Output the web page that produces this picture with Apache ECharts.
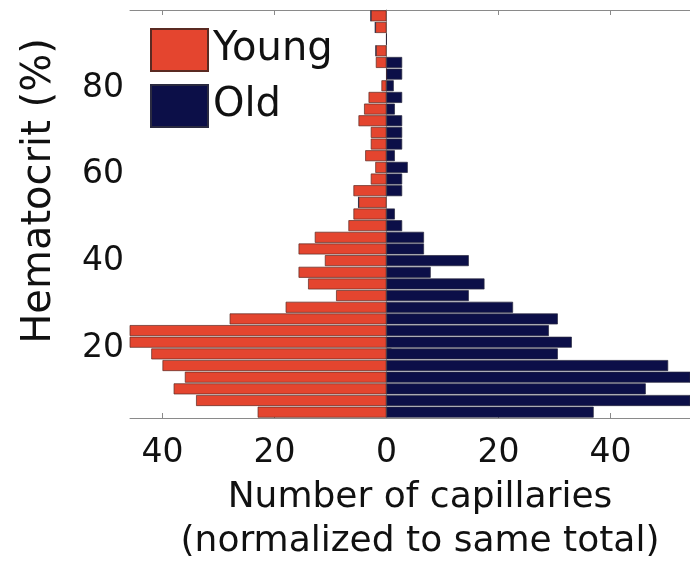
<!DOCTYPE html>
<html>
<head>
<meta charset="utf-8">
<script src="https://cdn.jsdelivr.net/npm/echarts@6/dist/echarts.min.js"></script>
<style>html,body{margin:0;padding:0;background:#fff;}#c{width:690px;height:561px;}</style>
</head>
<body>
<div id="c"></div>
<script>
// Hematocrit bin centers (%), bottom to top
const hematocritBins = [5.2, 7.9, 10.6, 13.2, 15.9, 18.6, 21.3, 24.0, 26.7, 29.4,
  32.1, 34.8, 37.5, 40.1, 42.8, 45.5, 48.2, 50.9, 53.6, 56.3,
  59.0, 61.7, 64.4, 67.0, 69.7, 72.4, 75.1, 77.8, 80.5, 83.2,
  85.9, 88.6, 91.3, 93.9, 96.6];
// Number of capillaries (normalized), per bin
const youngCounts = [23, 34, 38, 36, 40, 42, 47, 47, 28, 18,
  9, 14, 15.7, 11, 15.7, 12.8, 6.8, 5.9, 5, 5.9,
  2.8, 2, 3.8, 2.8, 2.8, 5, 4, 3.2, 0.9, 0,
  1.9, 1.9, 0, 2, 2.8];
const oldCounts = [37, 56, 46.3, 56, 50.3, 30.6, 33.1, 29, 30.6, 22.6,
  14.7, 17.5, 7.9, 14.7, 6.7, 6.7, 2.8, 1.5, 0, 2.8,
  2.8, 3.8, 1.5, 2.8, 2.8, 2.8, 1.5, 2.8, 1.3, 2.8,
  2.8, 0, 0, 0, 0];
const xTicks = [-40, -20, 0, 20, 40];
const yTicks = [20, 40, 60, 80];

const FONT = 'DejaVu Sans';
const AXIS_COLOR = '#8a8a8a';
const chart = echarts.init(document.getElementById('c'), null, {renderer: 'canvas'});
chart.setOption({
  animation: false,
  backgroundColor: '#fff',
  grid: {left: 130, top: 10, right: 0, bottom: 143, containLabel: false, outerBoundsMode: 'none'},
  legend: {
    orient: 'vertical', left: 145, top: 23,
    itemWidth: 57, itemHeight: 42, itemGap: 12,
    icon: 'rect',
    textStyle: {fontFamily: FONT, fontSize: 40, color: '#111'},
    data: ['Young', 'Old']
  },
  xAxis: [{
    type: 'value', min: -45.8, max: 54.2, position: 'bottom',
    axisLine: {show: true, lineStyle: {color: AXIS_COLOR, width: 1}},
    axisTick: {show: true, inside: true, length: 5, customValues: xTicks, lineStyle: {color: AXIS_COLOR}},
    axisLabel: {show: true, customValues: xTicks, margin: 19, fontFamily: FONT, fontSize: 33, color: '#111',
      formatter: v => String(Math.abs(v))},
    splitLine: {show: false},
    name: 'Number of capillaries\n(normalized to same total)',
    nameLocation: 'middle', nameGap: 58,
    nameTextStyle: {fontFamily: FONT, fontSize: 36, color: '#111', lineHeight: 44, padding: [0, 0, 0, 20]}
  }, {
    type: 'value', min: -45.8, max: 54.2, position: 'top',
    axisLine: {show: true, lineStyle: {color: AXIS_COLOR, width: 1}},
    axisTick: {show: true, inside: true, length: 5, customValues: xTicks, lineStyle: {color: AXIS_COLOR}},
    axisLabel: {show: false},
    splitLine: {show: false}
  }],
  yAxis: [{
    type: 'category', data: hematocritBins, position: 'left',
    axisLine: {show: false}, axisTick: {show: false}, axisLabel: {show: false},
    splitLine: {show: false}
  }, {
    type: 'value', min: 3.83, max: 98.0, position: 'left',
    axisLine: {show: true, lineStyle: {color: AXIS_COLOR, width: 1}},
    axisTick: {show: true, inside: true, length: 5, customValues: yTicks, lineStyle: {color: AXIS_COLOR}},
    axisLabel: {show: true, customValues: yTicks, margin: 6, fontFamily: FONT, fontSize: 33, color: '#111'},
    splitLine: {show: false},
    name: 'Hematocrit (%)', nameLocation: 'middle', nameRotate: 90, nameGap: 70,
    nameTextStyle: {fontFamily: FONT, fontSize: 40, color: '#111', padding: [0, 0, 0, 46]}
  }],
  series: [{
    name: 'Young', type: 'bar', xAxisIndex: 0, yAxisIndex: 0, stack: 'h',
    barCategoryGap: '6%',
    data: youngCounts.map(v => -v),
    itemStyle: {color: '#e4452f', borderColor: '#5a2a22', borderWidth: 0.7}
  }, {
    name: 'Old', type: 'bar', xAxisIndex: 0, yAxisIndex: 0, stack: 'h',
    barCategoryGap: '6%',
    data: oldCounts,
    itemStyle: {color: '#0c0f48', borderColor: '#2a2a40', borderWidth: 0.7}
  }]
});
</script>
</body>
</html>
